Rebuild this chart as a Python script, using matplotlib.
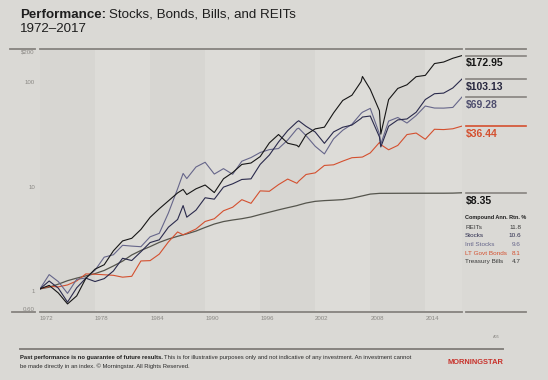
import matplotlib.pyplot as plt
from matplotlib.lines import Line2D
import matplotlib.transforms as mtransforms

# dates: 1972.0 = start, Y.0 = end of year Y-1, plus a few intra-year turning points
dates = [1972.0, 1973, 1974, 1975, 1976, 1977, 1978, 1979, 1980, 1981, 1982,
         1983, 1984, 1985, 1986, 1987, 1987.6, 1988, 1989, 1990, 1991, 1992,
         1993, 1994, 1995, 1996, 1997, 1998, 1999, 2000, 2000.2, 2001, 2002,
         2003, 2004, 2005, 2006, 2007, 2007.15, 2008, 2009, 2009.15, 2010,
         2011, 2012, 2013, 2014, 2015, 2016, 2017, 2018]

reits = [1.00, 1.08, 0.913, 0.717, 0.856, 1.263, 1.546, 1.705, 2.317, 2.883,
         3.056, 3.716, 4.853, 5.867, 6.988, 8.329, 9.0, 8.029, 9.113, 9.915,
         8.388, 11.38, 13.05, 15.62, 16.12, 18.58, 25.14, 30.25, 24.95, 23.81,
         23.0, 30.09, 34.27, 35.58, 48.78, 64.19, 72.02, 97.3, 109.0, 82.0,
         51.1, 30.5, 65.4, 83.7, 90.7, 108.5, 111.7, 145.0, 150.0, 163.0, 172.95]

stocks = [1.00, 1.19, 1.015, 0.746, 1.024, 1.267, 1.176, 1.254, 1.485, 1.966,
          1.870, 2.270, 2.781, 2.956, 3.908, 4.631, 6.30, 4.872, 5.690, 7.483,
          7.251, 9.462, 10.18, 11.21, 11.36, 15.63, 19.22, 25.64, 32.97, 39.90,
          41.0, 36.27, 31.95, 24.89, 32.04, 35.53, 37.27, 43.16, 44.5, 45.53,
          28.69, 23.0, 36.29, 41.77, 42.65, 49.47, 65.50, 74.47, 75.51, 84.57,
          103.13]

intl = [1.00, 1.371, 1.173, 0.906, 1.234, 1.272, 1.511, 2.015, 2.124, 2.618,
        2.572, 2.538, 3.157, 3.410, 5.357, 9.127, 12.8, 11.43, 14.76, 16.39,
        12.63, 14.24, 12.57, 16.77, 18.18, 20.33, 21.67, 22.19, 26.78, 34.20,
        34.8, 29.51, 23.32, 19.72, 27.50, 33.24, 37.94, 48.19, 49.5, 53.89,
        30.68, 24.5, 40.67, 44.08, 38.97, 45.97, 56.76, 54.29, 54.18, 55.02,
        69.28]

bonds = [1.00, 1.057, 1.045, 1.091, 1.192, 1.392, 1.382, 1.366, 1.349, 1.295,
         1.320, 1.853, 1.866, 2.155, 2.823, 3.515, 3.30, 3.420, 3.752, 4.431,
         4.706, 5.614, 6.069, 7.173, 6.614, 8.710, 8.632, 10.00, 11.31, 10.30,
         10.8, 12.51, 12.97, 15.28, 15.49, 16.81, 18.12, 18.34, 18.4, 20.15,
         25.37, 24.2, 21.59, 23.77, 30.21, 31.24, 27.24, 33.97, 33.73, 34.34,
         36.44]

tbills = [1.00, 1.038, 1.110, 1.198, 1.268, 1.333, 1.401, 1.502, 1.658, 1.844,
          2.115, 2.337, 2.543, 2.792, 3.007, 3.193, 3.30, 3.369, 3.585, 3.886,
          4.189, 4.424, 4.579, 4.712, 4.895, 5.170, 5.439, 5.727, 6.008, 6.290,
          6.37, 6.661, 6.914, 7.025, 7.095, 7.180, 7.396, 7.751, 7.80, 8.115,
          8.245, 8.25, 8.253, 8.261, 8.265, 8.270, 8.271, 8.273, 8.275, 8.291,
          8.35]

end_labels = ["$172.95", "$103.13", "$69.28", "$36.44", "$8.35"]
legend_names = ["REITs", "Stocks", "Intl Stocks", "LT Govt Bonds", "Treasury Bills"]
legend_rtn = ["11.8", "10.6", "9.6", "8.1", "4.7"]
xticks = [1972, 1978, 1984, 1990, 1996, 2002, 2008, 2014]
yticks = [0.6, 1, 10, 100, 200]
ytick_labels = ["0.60", "1", "10", "100", "$200"]

c_reit = "#161616"
c_stock = "#2a2a4c"
c_intl = "#66668a"
c_bond = "#d4502f"
c_bill = "#55554d"
rule = "#86837f"
cond = ["Liberation Sans Narrow", "Liberation Sans"]

W, H = 548, 380
fig = plt.figure(figsize=(W / 100, H / 100), dpi=100, facecolor="#dad9d5")


def fx(px):
    return px / W


def fy(py):
    return 1 - py / H


def hline(x0, x1, y, color=rule, lw=1.3):
    fig.add_artist(Line2D([fx(x0), fx(x1)], [fy(y), fy(y)], color=color, lw=lw,
                          transform=fig.transFigure))


ax = fig.add_axes([fx(40), fy(312), fx(462) - fx(40), fy(49) - fy(312)])
ax.set_facecolor("#dcdbd7")
ax.set_yscale("log")
ax.set_xlim(1972, 2018)
ax.set_ylim(0.6, 200)
for s in ax.spines.values():
    s.set_visible(False)

# alternating six-year bands
for i, yr in enumerate(range(1972, 2018, 6)):
    ax.axvspan(yr, min(yr + 6, 2018), color="#d7d6d2" if i % 2 == 0 else "#dddcd8",
               lw=0, zorder=0)

ax.plot(dates, tbills, color=c_bill, lw=0.9, zorder=3)
ax.plot(dates, bonds, color=c_bond, lw=0.8, zorder=4)
ax.plot(dates, intl, color=c_intl, lw=0.8, zorder=5)
ax.plot(dates, stocks, color=c_stock, lw=0.8, zorder=6)
ax.plot(dates, reits, color=c_reit, lw=0.8, zorder=7)

# x ticks
ax.set_xticks(xticks)
ax.set_xticklabels([str(t) for t in xticks], ha="left", family=cond,
                   fontsize=4.4, color="#8a8884")
ax.tick_params(axis="x", length=0, pad=3)
ax.set_yticks([])
ax.yaxis.set_minor_locator(plt.NullLocator())

# y labels (drawn just below their level, last one just above the base)
ytr = mtransforms.blended_transform_factory(ax.transAxes, ax.transData)
for v, lab in zip(yticks, ytick_labels):
    ax.text(-0.012, v, lab, transform=ytr, ha="right",
            va="bottom" if v == 0.6 else "top", family=cond, fontsize=4.4,
            color="#8a8884")

# end value labels in right column
finals = [reits[-1], stocks[-1], intl[-1], bonds[-1], tbills[-1]]
lab_cols = ["#151515", "#26263e", "#4e4e6e", c_bond, "#151515"]
seg_cols = [rule, rule, rule, c_bond, rule]
x0 = (466 - 40) / 422
x1 = (526 - 40) / 422
for v, lab, lc, sc in zip(finals, end_labels, lab_cols, seg_cols):
    ax.plot([x0, x1], [v, v], transform=ytr, color=sc, lw=1.2, clip_on=False)
    ax.annotate(lab, (x0, v), xycoords=ytr, xytext=(0, -2),
                textcoords="offset points", ha="left", va="top", family=cond,
                fontweight="bold", fontsize=7.5, color=lc)

# frame rules
hline(10, 35, 49)
hline(40, 462, 49)
hline(466, 526, 49)
hline(12, 35, 312)
hline(40, 462, 312)
hline(466, 526, 312)
hline(20, 503, 349, lw=1.4)

# title
t1 = fig.text(fx(20), fy(17.5), "Performance:", fontsize=9.6, fontweight="bold",
              color="#1e1e1e", va="baseline", family="Liberation Sans")
fig.canvas.draw()
bb = t1.get_window_extent(fig.canvas.get_renderer())
fig.text(bb.x1 / W + fx(2.5), fy(17.5), "Stocks, Bonds, Bills, and REITs",
         fontsize=9.6, color="#1e1e1e", va="baseline", family="Liberation Sans")
fig.text(fx(20), fy(32.5), "1972\u20132017", fontsize=9.6, color="#1e1e1e",
         va="baseline", family="Liberation Sans")

# legend table
fig.text(fx(465), fy(218), "Compound Ann. Rtn. %", family=cond, fontweight="bold",
         fontsize=4.0, color="#1e1e1e", va="center")
leg_cols = ["#3a3a3a", "#2a2a4c", "#66668a", c_bond, "#3a3a3a"]
for i, (nm, r, c) in enumerate(zip(legend_names, legend_rtn, leg_cols)):
    y = 227.3 + i * 8.6
    fig.text(fx(465), fy(y), nm, family=cond, fontsize=4.6, color=c, va="center")
    fig.text(fx(521), fy(y), r, family=cond, fontsize=4.6, color=c, va="center",
             ha="right")

fig.text(fx(500), fy(337), "A05", family=cond, fontsize=2.8, color="#8a8884",
         ha="right", va="center")

# footer
f1 = fig.text(fx(20), fy(358), "Past performance is no guarantee of future results.",
              family="Liberation Sans", fontweight="bold", fontsize=4.25,
              color="#1e1e1e", va="center")
fig.canvas.draw()
bb = f1.get_window_extent(fig.canvas.get_renderer())
fig.text(bb.x1 / W + fx(1.5), fy(358),
         "This is for illustrative purposes only and not indicative of any "
         "investment. An investment cannot",
         family="Liberation Sans", fontsize=4.25, color="#2a2a2a", va="center")
fig.text(fx(20), fy(366), "be made directly in an index. \u00a9 Morningstar. "
         "All Rights Reserved.", family="Liberation Sans", fontsize=4.25,
         color="#2a2a2a", va="center")
fig.text(fx(447), fy(362), "MORNINGSTAR", family="Liberation Sans",
         fontweight="bold", fontsize=5.4, color="#c8322b", va="center")

fig.savefig("out.png", dpi=100, facecolor=fig.get_facecolor())
